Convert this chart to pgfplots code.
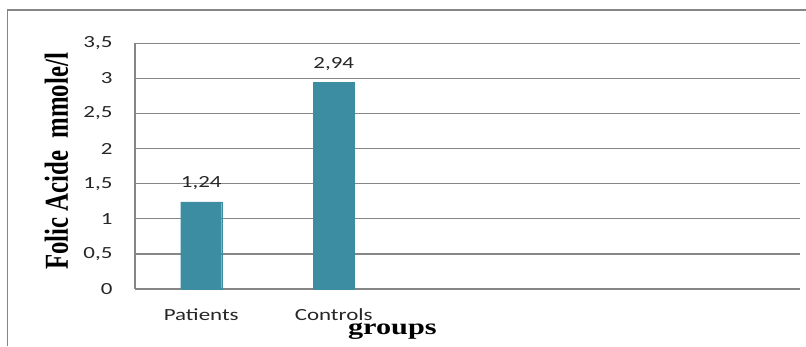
\documentclass[border=0pt]{standalone}
\usepackage{pgfplots}
\pgfplotsset{compat=1.18}
\usepackage{fontspec}
\usepackage{graphicx}
\newfontfamily\calib[FakeStretch=1.35]{Carlito}
\newfontfamily\tnrs[FakeStretch=1.35]{Liberation Serif}
\newfontfamily\tnr{Liberation Serif}
\definecolor{barc}{RGB}{60,140,162}
\definecolor{gridc}{RGB}{134,134,134}
\begin{document}
\begin{tikzpicture}[x=1pt,y=1pt]
\useasboundingbox (0,0) rectangle (806,346);
\draw[gridc, line width=1.4pt] (7.5,0) -- (7.5,336) -- (806,336);
\begin{axis}[
  at={(135pt,57pt)}, anchor=south west,
  scale only axis, width=665pt, height=245.7pt,
  xmin=-0.5, xmax=4.52, ymin=0, ymax=3.5,
  ytick={0,0.5,...,3.5},
  xtick={0,1}, xticklabels={Patients,Controls},
  axis x line*=bottom, axis y line*=left,
  axis line style={draw=gridc, line width=1.4pt, -},
  ymajorgrids, grid style={draw=gridc, line width=1.3pt},
  major tick length=0pt,
  /pgf/number format/assume math mode=true,
  /pgf/number format/use comma,
  tick label style={font=\calib\fontsize{17}{17}\selectfont, text=black!85},
  yticklabel style={xshift=-19pt},
  xticklabel style={anchor=base, yshift=-31pt},
  xlabel={\tnrs\bfseries groups},
  xlabel style={font=\fontsize{22.4}{22.4}\selectfont, at={(axis description cs:0.387,-0.187)}, anchor=base},
  ylabel={\scalebox{1}[1.35]{\tnr\bfseries Folic Acide\ \ mmole/l}},
  ylabel style={font=\fontsize{24.8}{24.8}\selectfont, at={(axis description cs:-0.118,0.519)}, anchor=center},
  ybar, bar width=41pt, bar shift=0pt,
  nodes near coords,
  nodes near coords style={font=\calib\fontsize{17}{17}\selectfont, text=black!85, anchor=base, yshift=14pt, /pgf/number format/precision=2},
]
\addplot[fill=barc, draw=barc] coordinates {(0,1.24) (1,2.94)};
\end{axis}
\end{tikzpicture}
\end{document}
